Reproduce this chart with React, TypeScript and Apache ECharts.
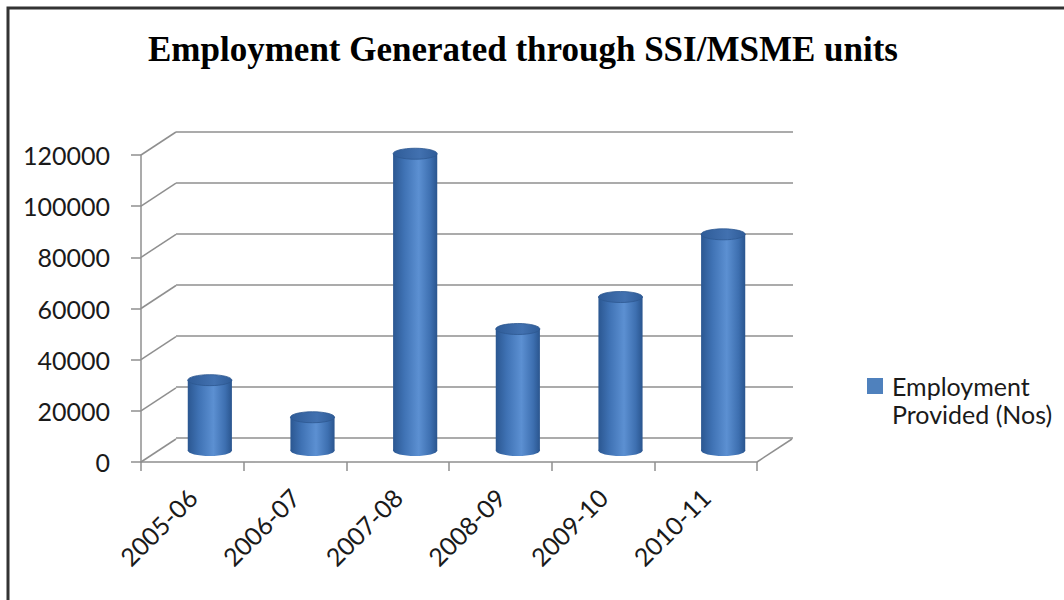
import React, { useEffect, useRef } from "react";
import * as echarts from "echarts";

const categories = ["2005-06", "2006-07", "2007-08", "2008-09", "2009-10", "2010-11"];
const employment = [27500, 13000, 116000, 47500, 60000, 84500];
const yTicks = [0, 20000, 40000, 60000, 80000, 100000, 120000];
const seriesName = "Employment Provided (Nos)";
const titleText = "Employment Generated through SSI/MSME units";

const DX = 35;
const DY = -23;
const GRID_COLOR = "#8f8f8f";
const TEXT_COLOR = "#1a1a1a";
const LABEL_FONT = "Lato";

export default function App() {
  const ref = useRef<HTMLDivElement>(null);

  useEffect(() => {
    if (!ref.current) return;
    const chart = echarts.init(ref.current, null, { renderer: "svg" });

    const bodyGrad = () =>
      new echarts.graphic.LinearGradient(0, 0, 1, 0, [
        { offset: 0, color: "#2b5791" },
        { offset: 0.25, color: "#3f72b4" },
        { offset: 0.58, color: "#5c90d2" },
        { offset: 0.85, color: "#3d6fb0" },
        { offset: 1, color: "#2a558e" },
      ]);
    const topGrad = () =>
      new echarts.graphic.LinearGradient(0, 0, 1, 0, [
        { offset: 0, color: "#2f5c98" },
        { offset: 0.6, color: "#4271b0" },
        { offset: 1, color: "#2f5c98" },
      ]);

    const cylinderData = categories.map((_, i) => [i, employment[i]]);
    const frameData = yTicks.map((v) => [0, v]);

    chart.setOption({
      animation: false,
      backgroundColor: "#ffffff",
      title: {
        text: titleText,
        left: 143,
        top: 27,
        textStyle: {
          fontFamily: "Liberation Serif",
          fontWeight: "bold",
          fontSize: 35,
          color: "#000000",
        },
      },
      legend: {
        data: [seriesName],
        left: 862,
        top: 339,
        icon: "rect",
        itemWidth: 16,
        itemHeight: 16,
        selectedMode: false,
        formatter: (name: string) => " \n" + name.replace(" Provided", "\nProvided"),
        textStyle: {
          fontFamily: LABEL_FONT,
          fontSize: 25,
          lineHeight: 28,
          color: TEXT_COLOR,
          padding: [0, 0, 0, 4],
        },
      },
      graphic: [
        {
          type: "rect",
          shape: { x: 8, y: 8, width: 1200, height: 800 },
          style: { fill: "none", stroke: "#333333", lineWidth: 3 },
          silent: true,
        },
      ],
      grid: [
        { left: 141, right: 307, top: 155, bottom: 138 },
        { left: 176, right: 271, top: 132, bottom: 162 },
      ],
      xAxis: [
        {
          type: "category",
          gridIndex: 0,
          data: categories,
          boundaryGap: true,
          axisLine: { show: true, lineStyle: { color: GRID_COLOR, width: 1.5 } },
          axisTick: { show: true, length: 9, alignWithLabel: false, lineStyle: { color: GRID_COLOR, width: 1.5 } },
          axisLabel: {
            interval: 0,
            rotate: 45,
            margin: 31,
            fontFamily: LABEL_FONT,
            fontSize: 25,
            color: TEXT_COLOR,
          },
          splitLine: { show: false },
        },
        {
          type: "category",
          gridIndex: 1,
          data: categories,
          show: false,
        },
      ],
      yAxis: [
        {
          type: "value",
          gridIndex: 0,
          min: 0,
          max: 120000,
          interval: 20000,
          axisLine: { show: true, lineStyle: { color: GRID_COLOR, width: 1.5 } },
          axisTick: { show: true, length: 10, lineStyle: { color: GRID_COLOR, width: 1.5 } },
          axisLabel: {
            margin: 31,
            fontFamily: LABEL_FONT,
            fontSize: 25,
            color: TEXT_COLOR,
            formatter: (v: number) => String(v),
          },
          splitLine: { show: false },
        },
        {
          type: "value",
          gridIndex: 1,
          min: 0,
          max: 120000,
          interval: 20000,
          axisLine: { show: false },
          axisTick: { show: false },
          axisLabel: { show: false },
          splitLine: { show: true, lineStyle: { color: GRID_COLOR, width: 1.5 } },
        },
      ],
      series: [
        {
          type: "custom",
          name: "frame",
          xAxisIndex: 0,
          yAxisIndex: 0,
          silent: true,
          clip: false,
          z: 1,
          data: frameData,
          renderItem: (params: any, api: any) => {
            const cs = params.coordSys;
            const v = api.value(1);
            const y = api.coord([0, v])[1];
            const children: any[] = [
              {
                type: "line",
                shape: { x1: cs.x, y1: y, x2: cs.x + DX, y2: y + DY },
                style: { stroke: GRID_COLOR, lineWidth: 1.5 },
              },
            ];
            if (v === 0) {
              children.push({
                type: "line",
                shape: { x1: cs.x + cs.width, y1: y, x2: cs.x + cs.width + DX, y2: y + DY },
                style: { stroke: GRID_COLOR, lineWidth: 1.5 },
              });
            }
            return { type: "group", children };
          },
        },
        {
          type: "custom",
          name: seriesName,
          xAxisIndex: 0,
          yAxisIndex: 0,
          clip: false,
          z: 3,
          itemStyle: { color: "#4f81bd" },
          encode: { x: 0, y: 1 },
          data: cylinderData,
          renderItem: (params: any, api: any) => {
            const idx = api.value(0);
            const v = api.value(1);
            const base = api.coord([idx, 0]);
            const top = api.coord([idx, v]);
            const bw = api.size([1, 0])[0];
            const w = bw * 0.43;
            const rx = w / 2;
            const ry = 5.5;
            const cx = base[0] + DX / 2;
            const yb = base[1] + DY / 2;
            const yt = top[1] + DY / 2;
            return {
              type: "group",
              children: [
                {
                  type: "ellipse",
                  shape: { cx, cy: yb, rx, ry },
                  style: { fill: bodyGrad() },
                },
                {
                  type: "rect",
                  shape: { x: cx - rx, y: yt, width: w, height: yb - yt },
                  style: { fill: bodyGrad() },
                },
                {
                  type: "ellipse",
                  shape: { cx, cy: yt, rx, ry },
                  style: { fill: topGrad(), stroke: "#2d5891", lineWidth: 0.8 },
                },
              ],
            };
          },
        },
      ],
    });

    return () => chart.dispose();
  }, []);

  return (
    <div
      ref={ref}
      style={{ position: "absolute", left: 0, top: 0, width: 1064, height: 600 }}
    />
  );
}
